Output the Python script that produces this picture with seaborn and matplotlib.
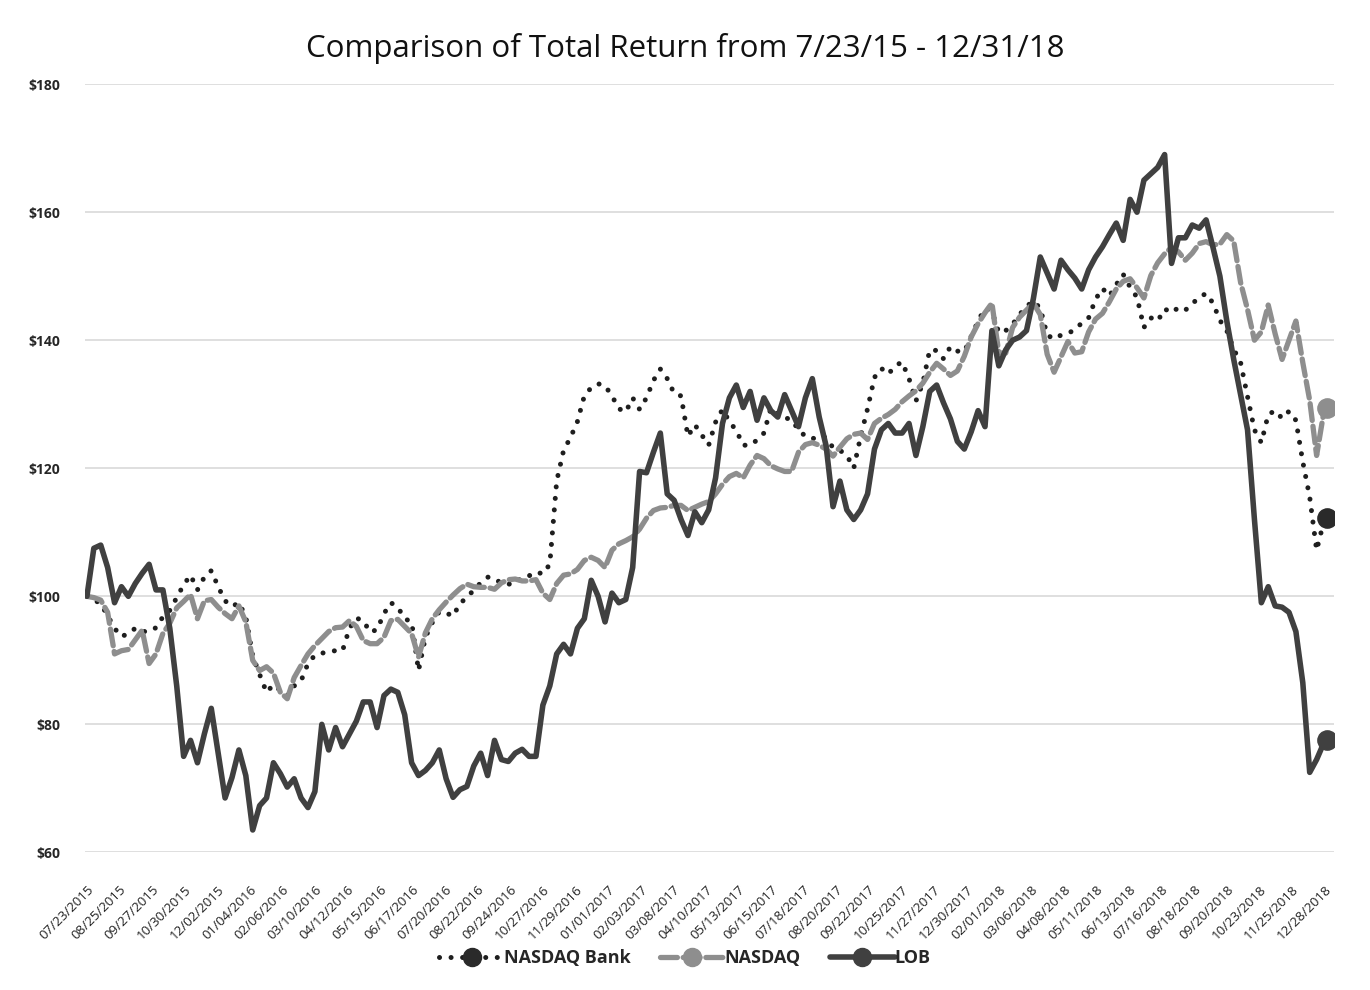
import pandas as pd
import numpy as np
import matplotlib
matplotlib.use("Agg")
import matplotlib.pyplot as plt
from matplotlib.lines import Line2D
from matplotlib.legend_handler import HandlerLine2D
import seaborn as sns

# weekly readings from 7/23/2015, last point is 12/31/2018
dates = list(pd.date_range("2015-07-23", periods=180, freq="7D")) + [pd.Timestamp("2018-12-31")]

nasdaq_bank = [
    100, 99.5, 98.8, 97, 95, 93.7, 94.2, 95, 94.5, 94.5,
    95.1, 96.8, 97.8, 99.8, 101.8, 103.3, 101, 103, 104, 101.5,
    99.3, 98.4, 99, 96.8, 90.7, 87.8, 85, 86.2, 85.3, 84.5,
    86, 86.8, 89.5, 90.8, 91.1, 91.4, 91.5, 91.5, 95, 96.6,
    96.2, 94.4, 94.8, 97.3, 99, 98.3, 96.5, 96, 88.4, 93.6,
    95.9, 97.6, 97.4, 96.9, 98.9, 99.8, 101, 102.1, 103, 102.8,
    102, 101.9, 102, 103, 103.2, 103.8, 103.5, 105, 118, 122.8,
    124.8, 127.3, 131.3, 132.6, 133.2, 132.9, 131.3, 129.3, 128.8, 131,
    129.2, 131, 133.7, 135.5, 134, 131.7, 131.3, 125, 126.8, 125.2,
    123.6, 127.2, 129.2, 127.3, 125.9, 123.6, 123.6, 124.4, 125.5, 129.4,
    128.5, 127.9, 127.6, 126, 125, 124.6, 125, 124.8, 123.2, 122.8,
    122, 120, 125, 129.3, 134.2, 135.6, 134.7, 136, 136.6, 134,
    130.5, 133.3, 138.5, 138.4, 137.1, 139, 138.3, 138.2, 140.6, 143,
    145, 144.5, 141.2, 141.5, 142.5, 144, 145.3, 146.1, 145, 140.8,
    140.2, 140.8, 141.1, 141.6, 142.7, 143.5, 146.4, 148.1, 146.9, 148.7,
    150.3, 148.3, 146.7, 142, 143.5, 143, 144.9, 144.3, 145.1, 144.7,
    145.7, 146.7, 147.3, 145.8, 143.1, 141.5, 138.6, 136.5, 131.2, 126,
    124, 128.4, 129, 127.8, 128.9, 127.5, 121, 115.5, 107.2, 111.5,
    112.2,
]

nasdaq = [
    100, 99.8, 99.4, 97.5, 91, 91.5, 91.7, 93.2, 94.7, 89.5,
    91, 94.2, 95.8, 98.2, 99.2, 100.3, 96.5, 99.3, 99.5, 98.3,
    97.3, 96.5, 98.5, 96, 90, 88.4, 89, 88, 85, 84,
    87.3, 89.2, 91, 92.3, 93.4, 94.5, 95.1, 95.2, 96.2, 95.3,
    93.1, 92.6, 92.6, 93.6, 96.2, 96.4, 95.3, 94.2, 90.5, 94.3,
    96.5, 97.9, 99.1, 100.2, 101.2, 101.9, 101.5, 101.4, 101.4, 101.1,
    102.1, 102.6, 102.7, 102.4, 102.4, 102.6, 100.5, 99.5, 102, 103.3,
    103.5, 104.2, 105.6, 106.1, 105.6, 104.5, 107.2, 108.2, 108.7, 109.3,
    110.5, 112.2, 113.4, 113.8, 113.9, 114.2, 114.2, 113.4, 113.9, 114.4,
    114.8, 116, 117.5, 118.7, 119.2, 118.5, 120.5, 122, 121.5, 120.4,
    119.9, 119.5, 119.5, 122.5, 123.7, 124, 123.6, 123, 121.9, 123.3,
    124.6, 125.3, 125.5, 124.5, 127, 127.8, 128.4, 129.2, 130.4, 131.3,
    132.1, 133.3, 135, 136.4, 135.5, 134.5, 135.2, 137.5, 140.5, 142.6,
    144.3, 145.8, 138, 138, 142, 143.6, 144.7, 145.8, 144, 137.8,
    135, 137.4, 139.8, 138, 138.2, 141.3, 143.3, 144.2, 146, 148,
    149.2, 149.6, 148.2, 146.6, 150.1, 152.1, 153.5, 154.5, 153.8, 152.5,
    153.6, 155.1, 155.4, 154.9, 155, 156.5, 155.5, 149, 144.8, 140,
    141.3, 145.5, 141, 137, 140, 143, 136.5, 130.6, 122, 128.5,
    129.4,
]

lob = [
    100, 107.5, 108, 104.5, 99, 101.5, 100, 102, 103.6, 105,
    101, 101, 95, 86, 75, 77.5, 74, 78.5, 82.5, 75.5,
    68.5, 71.7, 76, 72, 63.5, 67.3, 68.5, 74, 72.3, 70.2,
    71.5, 68.5, 67, 69.5, 80, 76, 79.5, 76.5, 78.5, 80.5,
    83.5, 83.5, 79.5, 84.5, 85.5, 85, 81.5, 74, 72, 72.8,
    74, 76, 71.5, 68.6, 69.8, 70.3, 73.5, 75.5, 72, 77.5,
    74.5, 74.2, 75.5, 76.1, 75, 75, 83, 86, 91, 92.5,
    91, 95, 96.5, 102.5, 100, 96, 100.5, 99, 99.5, 104.5,
    119.5, 119.3, 122.5, 125.5, 116, 115, 112, 109.5, 113.2, 111.5,
    113.5, 118.5, 127, 131, 133, 129.5, 132, 127.5, 131, 129,
    128, 131.5, 129, 126.5, 131, 134, 128, 123.5, 114, 118,
    113.5, 112, 113.5, 116, 123, 126, 127, 125.5, 125.5, 127,
    122, 126.5, 132, 133, 130.2, 127.7, 124.2, 123, 125.7, 129,
    126.5, 141.5, 136, 138.5, 140, 140.5, 141.5, 146.5, 153, 150.5,
    148, 152.5, 151, 149.7, 148, 151, 153, 154.6, 156.5, 158.3,
    155.6, 162, 160, 165, 166, 167, 169, 152, 156, 156,
    158, 157.5, 158.8, 154.5, 150, 143, 137, 131.5, 126, 112,
    99, 101.5, 98.5, 98.3, 97.5, 94.5, 86.5, 72.5, 74.5, 77,
    77.6,
]

series_names = ["NASDAQ Bank", "NASDAQ", "LOB"]
tick_dates = pd.date_range("2015-07-23", "2018-12-31", freq="33D")
y_ticks = [60, 80, 100, 120, 140, 160, 180]

df = pd.DataFrame({"date": dates, "NASDAQ Bank": nasdaq_bank, "NASDAQ": nasdaq, "LOB": lob})

sns.set_theme(style="white")
plt.rcParams["font.family"] = ["Open Sans", "DejaVu Sans"]

styles = {
    "NASDAQ Bank": dict(color="#1e1e1e", lw=3.6, ls=(0, (0.01, 2.3)), mcolor="#2a2a2a"),
    "NASDAQ": dict(color="#8e8e8e", lw=3.8, ls=(0, (3.2, 1.1)), mcolor="#8e8e8e"),
    "LOB": dict(color="#404040", lw=4.0, ls="-", mcolor="#404040"),
}

fig, ax = plt.subplots(figsize=(13.7, 9.9), dpi=100)
fig.subplots_adjust(left=0.062, right=0.974, top=0.915, bottom=0.139)

for name in series_names:
    st = styles[name]
    sns.lineplot(data=df, x="date", y=name, ax=ax, color=st["color"], lw=st["lw"],
                 linestyle=st["ls"], dash_capstyle="round", solid_capstyle="round")
    sns.scatterplot(x=[df["date"].iloc[-1]], y=[df[name].iloc[-1]], ax=ax, s=190,
                    color=st["mcolor"], edgecolor=st["mcolor"], zorder=5)

ax.set_xlim(pd.Timestamp("2015-07-21"), pd.Timestamp("2019-01-07"))
ax.set_ylim(60, 180)
ax.set_yticks(y_ticks)
ax.set_yticklabels([f"${v}" for v in y_ticks], fontsize=10, fontweight="bold")
ax.set_xticks(tick_dates)
ax.set_xticklabels([d.strftime("%m/%d/%Y") for d in tick_dates], fontsize=9.6,
                   color="#222222", rotation=45, ha="right", va="top", rotation_mode="anchor")
ax.tick_params(axis="x", length=0, pad=22)
ax.tick_params(axis="y", length=0, pad=18)
ax.set_xlabel("")
ax.set_ylabel("")
ax.yaxis.grid(True, color="#dcdcdc", lw=1.3)
ax.xaxis.grid(False)
for s in ax.spines.values():
    s.set_visible(False)

fig.suptitle("Comparison of Total Return from 7/23/15 - 12/31/18", x=0.5, y=0.951,
             va="center", fontsize=22.5, color="#111111")


class EndMarker(HandlerLine2D):
    # put the legend marker at the right end of the line sample
    def get_xdata(self, legend, xdescent, ydescent, width, height, fontsize):
        xdata, _ = super().get_xdata(legend, xdescent, ydescent, width, height, fontsize)
        return xdata, xdata[-1:]


handles = []
for name in series_names:
    st = styles[name]
    handles.append(Line2D([], [], color=st["color"], lw=st["lw"], ls=st["ls"],
                          dash_capstyle="round", marker="o", markersize=13,
                          markerfacecolor=st["mcolor"], markeredgecolor=st["mcolor"]))

leg = fig.legend(handles, series_names, loc="center", bbox_to_anchor=(0.5, 0.032), ncol=3,
                 frameon=False, handlelength=3.6, handletextpad=0.0, columnspacing=1.6,
                 numpoints=1, handler_map={Line2D: EndMarker()},
                 prop={"weight": "bold", "size": 13})

fig.savefig("out.png", dpi=100)
